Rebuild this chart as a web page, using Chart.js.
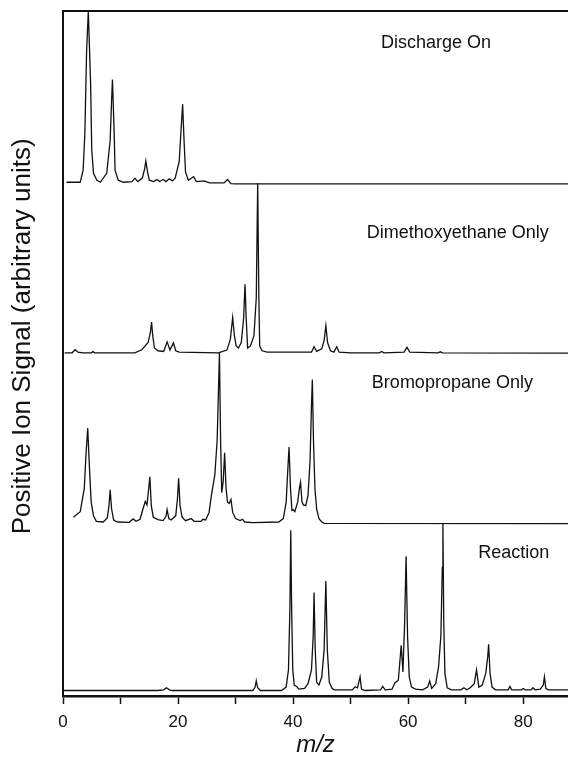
<!DOCTYPE html>
<html>
<head>
<meta charset="utf-8">
<script src="https://cdn.jsdelivr.net/npm/chart.js@4/dist/chart.umd.min.js"></script>
<style>
  html, body { margin: 0; padding: 0; background: #fff; }
  #wrap { width: 568px; height: 762px; }
</style>
</head>
<body>
<div id="wrap"><canvas id="spectra" width="568" height="762"></canvas></div>
<script>
const traceNames = ['Discharge On', 'Dimethoxyethane Only', 'Bromopropane Only', 'Reaction'];
const traceOffsets = [75.0, 50.1, 25.3, 0.8];
const xTicks = [0, 20, 40, 60, 80];

const mzDischarge = [0.6, 3.0, 3.5, 3.8, 4.1, 4.4, 4.8, 5.0, 5.3, 5.9, 6.5, 7.6, 8.2, 8.45, 8.6, 8.9, 9.05, 9.6, 10.5, 12.0,
  12.5, 13.0, 13.8, 14.2, 14.4, 14.7, 15.0, 15.8, 16.3, 16.8, 17.4, 17.9, 18.5, 19.0, 19.5, 20.2, 20.55, 20.8, 21.05, 21.3,
  21.8, 22.7, 23.2, 24.5, 25.5, 28.0, 28.6, 29.2, 30.0, 87.8];
const sigDischarge = [0, 0, 1.75, 7.1, 19, 25, 14.4, 4.7, 1.3, 0.3, 0, 1.3, 6.1, 12, 15, 7.1, 1.75, 0.3, 0, 0.1,
  0.6, 0.1, 0.6, 2.0, 3.1, 1.5, 0.3, 0.1, 0.4, 0.1, 0.4, 0.1, 0.5, 0.2, 0.6, 3.0, 8, 11.4, 6, 1.5,
  0.3, 0.8, 0.1, 0.2, -0.1, -0.1, 0.4, -0.2, -0.25, -0.25];

const mzDme = [0.3, 1.6, 2.1, 2.6, 3.5, 5.0, 5.2, 5.5, 12.5, 13.7, 14.8, 15.2, 15.4, 15.6, 15.9, 16.5, 17.5, 18.1, 18.6, 19.2,
  19.6, 20.2, 27.0, 28.5, 29.1, 29.5, 29.8, 30.1, 30.5, 31.0, 31.4, 31.65, 31.85, 32.1, 32.6, 33.2, 33.6, 33.85, 34.05, 34.2,
  34.6, 35.5, 42.0, 43.2, 43.65, 44.1, 45.0, 45.4, 45.7, 46.0, 46.5, 47.1, 47.6, 48.0, 50.0, 55.0, 55.4, 55.8, 59.3, 59.8,
  60.3, 65.2, 65.6, 66.0, 87.8];
const sigDme = [0, 0, 0.45, 0.1, 0, 0, 0.2, 0, 0, 0.45, 1.5, 3.0, 4.5, 2.5, 0.7, 0.3, 0.2, 1.6, 0.4, 1.45,
  0.3, 0.1, 0, 0.4, 2.0, 5.15, 2.5, 1.0, 0.7, 1.5, 5, 10.0, 5, 0.7, 1.0, 2.5, 8, 24.7, 8, 1.0,
  0.3, 0.1, 0.1, 0.1, 0.9, 0.2, 0.6, 1.8, 3.95, 1.5, 0.3, 0.1, 0.9, 0.1, 0, 0, 0.2, 0, 0.1, 0.8,
  0.1, 0, 0.15, 0, -0.05];

const mzBromo = [1.8, 3.0, 3.7, 4.0, 4.3, 4.6, 4.9, 5.3, 5.8, 7.0, 7.7, 8.0, 8.2, 8.45, 8.8, 9.5, 11.5, 12.2, 12.7, 13.4,
  13.9, 14.3, 14.6, 14.9, 15.1, 15.35, 15.7, 16.5, 17.4, 17.9, 18.1, 18.4, 18.8, 19.6, 19.9, 20.1, 20.35, 20.7, 21.3, 22.3,
  22.8, 24.0, 24.3, 24.8, 25.4, 25.8, 26.1, 26.4, 26.8, 27.05, 27.2, 27.4, 27.6, 27.85, 28.1, 28.35, 28.6, 28.9, 29.2, 29.5,
  30.0, 30.8, 31.2, 31.6, 33.0, 37.5, 38.3, 38.8, 39.1, 39.3, 39.55, 39.8, 40.0, 40.3, 40.8, 41.1, 41.3, 41.55, 41.8, 42.2,
  42.6, 42.95, 43.2, 43.35, 43.55, 43.8, 44.1, 44.5, 45.0, 45.4, 87.8];
const sigBromo = [0.8, 1.6, 5, 10, 13.8, 8, 3, 1.0, 0.2, 0.1, 0.7, 2.5, 4.8, 2.0, 0.4, 0.1, 0.05, 0.55, 0.2, 0.5,
  2.0, 3.1, 2.6, 5, 6.7, 2.5, 0.8, 0.45, 0.3, 0.9, 1.9, 0.6, 0.4, 1.0, 3.5, 6.5, 2.5, 0.8, 0.3, 0.6,
  0.2, 0.2, 0.5, 0.4, 1.5, 4.0, 5.5, 7, 12, 20, 24.8, 12, 4.4, 6, 10.2, 5, 3.0, 2.8, 3.4, 1.5,
  0.6, 0.3, 0.5, 0.1, 0, 0.1, 0.6, 3.0, 8, 11.05, 5, 1.8, 1.9, 1.6, 3.0, 5.0, 5.9, 3.0, 2.6, 2.5,
  4.0, 9, 17, 20.9, 12, 5, 2.0, 0.6, 0.1, -0.1, -0.15];

const mzReaction = [0, 16.5, 17.5, 18.0, 18.5, 19.0, 33.0, 33.4, 33.6, 33.85, 34.3, 38.0, 38.8, 39.2, 39.45, 39.6, 39.75, 39.95, 40.2, 40.6,
  41.0, 42.0, 42.6, 43.2, 43.5, 43.65, 43.85, 44.1, 44.5, 45.0, 45.4, 45.7, 45.95, 46.3, 46.8, 47.2, 50.3, 50.8, 51.2, 51.65,
  51.9, 52.5, 55.2, 55.6, 56.0, 57.2, 57.7, 58.3, 58.8, 59.1, 59.4, 59.65, 59.9, 60.2, 60.6, 61.3, 62.5, 63.4, 63.75, 64.1,
  64.8, 65.3, 65.7, 65.95, 66.05, 66.2, 66.4, 66.8, 67.5, 69.2, 69.7, 70.2, 70.8, 71.5, 71.9, 72.3, 72.9, 73.5, 73.85, 74.0,
  74.25, 74.6, 75.2, 77.4, 77.7, 78.0, 79.7, 80.0, 80.4, 81.4, 81.7, 82.1, 83.0, 83.5, 83.7, 83.95, 84.4, 87.8];
const sigReaction = [0, 0, 0.1, 0.4, 0.1, 0, 0, 0.5, 1.4, 0.4, 0, 0, 0.5, 3, 12, 23.4, 12, 3, 0.8, 0.6,
  0.2, 0.3, 1.0, 3, 8, 14.3, 6, 1.2, 0.8, 2.0, 6, 16.0, 6, 1.2, 0.3, 0.1, 0.1, 0.55, 0.4, 2.0,
  0.2, 0, 0.1, 0.6, 0.1, 0.2, 1.1, 1.5, 6.6, 2.7, 10, 19.6, 8, 2.0, 0.5, 0.2, 0.1, 0.5, 1.4, 0.3,
  1.0, 3.5, 8, 18, 24.3, 10, 2.5, 0.4, 0.1, 0.1, 0.4, 0.1, 0.4, 1.0, 3.0, 0.5, 0.8, 2.5, 5, 6.74,
  2.5, 0.5, 0.1, 0.1, 0.6, 0.1, 0.1, 0.3, 0.1, 0.1, 0.4, 0.1, 0.2, 0.8, 2.0, 0.3, 0.1, 0.1];

const traceMz = [mzDischarge, mzDme, mzBromo, mzReaction];
const traceSig = [sigDischarge, sigDme, sigBromo, sigReaction];

const FONT = '"Liberation Sans", Arial, Helvetica, sans-serif';
const Y_TITLE = 'Positive Ion Signal (arbitrary units)';

function buildDatasets() {
  const datasets = [];
  for (let i = 0; i < traceNames.length; i++) {
    const points = traceMz[i].map(function (mz, j) {
      return { x: mz, y: traceOffsets[i] + traceSig[i][j] };
    });
    datasets.push({
      label: traceNames[i],
      data: points,
      borderColor: '#111',
      borderWidth: 1.3,
      pointRadius: 0,
      tension: 0,
      fill: false,
    });
  }
  return datasets;
}

// trace names to the right of each spectrum, plus the rotated y title
const traceLabels = {
  id: 'traceLabels',
  afterDatasetsDraw(chart) {
    const where = [[55.3, 95.3], [52.8, 67.6], [53.7, 45.7], [72.2, 20.9]];
    const { ctx, scales } = chart;
    ctx.save();
    ctx.font = '18px ' + FONT;
    ctx.fillStyle = '#111';
    ctx.textBaseline = 'middle';
    traceNames.forEach(function (name, i) {
      ctx.fillText(name, scales.x.getPixelForValue(where[i][0]), scales.y.getPixelForValue(where[i][1]));
    });

    ctx.font = '26px ' + FONT;
    ctx.textAlign = 'center';
    ctx.translate(23, scales.y.getPixelForValue(52.5));
    ctx.rotate(-Math.PI / 2);
    ctx.fillText(Y_TITLE, 0, 0);
    ctx.restore();
  },
};

new Chart(document.getElementById('spectra'), {
  type: 'line',
  data: { datasets: buildDatasets() },
  options: {
    responsive: false,
    animation: false,
    layout: { padding: { top: 11, left: 0, right: 0, bottom: 0 } },
    plugins: { legend: { display: false }, tooltip: { enabled: false } },
    scales: {
      x: {
        type: 'linear',
        position: 'bottom',
        min: 0,
        max: 87.8,
        afterFit: function (scale) { scale.height = 66; },
        afterBuildTicks: function (scale) {
          scale.ticks = [0, 10, 20, 30, 40, 50, 60, 70, 80].map(function (v) { return { value: v }; });
        },
        ticks: {
          color: '#111',
          font: { size: 17, family: FONT },
          padding: 8,
          maxRotation: 0,
          callback: function (v) { return xTicks.includes(v) ? String(v) : ''; },
        },
        grid: { drawOnChartArea: false, drawTicks: true, tickLength: 8, tickColor: '#111', tickWidth: 1.5 },
        border: { display: true, color: '#111', width: 2.5 },
        title: {
          display: true,
          text: 'm/z',
          color: '#111',
          font: { size: 24, style: 'italic', family: FONT },
          padding: { top: 0, bottom: 2 },
        },
      },
      xTop: {
        type: 'linear',
        position: 'top',
        min: 0,
        max: 87.8,
        afterFit: function (scale) { scale.height = 0; },
        ticks: { display: false },
        grid: { display: false },
        border: { display: true, color: '#111', width: 2 },
      },
      y: {
        type: 'linear',
        min: 0,
        max: 100,
        afterFit: function (scale) { scale.width = 63; },
        ticks: { display: false },
        grid: { display: false },
        border: { display: true, color: '#111', width: 2 },
      },
    },
  },
  plugins: [traceLabels],
});
</script>
</body>
</html>
